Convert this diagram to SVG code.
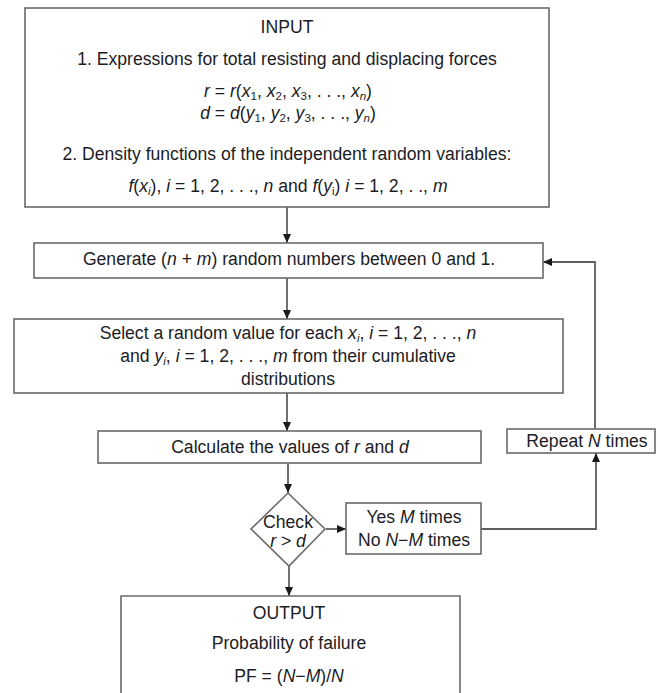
<svg xmlns="http://www.w3.org/2000/svg" width="658" height="693" viewBox="0 0 658 693">
<style>
  text { font-family: "Liberation Sans", Arial, sans-serif; font-size: 17.6px; fill: #1c1c24; text-anchor: middle; }
  .i { font-style: italic; }
  .s { font-size: 11.5px; }
  .box { fill: #fff; stroke: #6a6a6a; stroke-width: 1.6; }
  .ln { fill: none; stroke: #606060; stroke-width: 1.8; marker-end: url(#ah); }
</style>
<defs>
  <marker id="ah" markerUnits="userSpaceOnUse" markerWidth="10" markerHeight="10" refX="9" refY="4" orient="auto">
    <path d="M0,0 L9,4 L0,8 z" fill="#1a1a1a"/>
  </marker>
</defs>
<rect width="658" height="693" fill="#fff"/>

<g id="connectors">
  <path class="ln" d="M287 207 V243"/>
  <path class="ln" d="M287 278 V319"/>
  <path class="ln" d="M287 393 V431"/>
  <path class="ln" d="M288 463 V493"/>
  <path class="ln" d="M289 566 V596"/>
  <path class="ln" d="M326 529 H346"/>
  <path class="ln" d="M481 529 H596 V453"/>
  <path class="ln" d="M595 429 V262 H543"/>
</g>

<g id="input">
  <rect class="box" x="25" y="8" width="524" height="199"/>
  <text x="287" y="33">INPUT</text>
  <text x="287" y="65">1. Expressions for total resisting and displacing forces</text>
  <text x="288" y="97"><tspan class="i">r</tspan> = <tspan class="i">r</tspan>(<tspan class="i">x</tspan><tspan class="s" dy="3">1</tspan><tspan dy="-3">, </tspan><tspan class="i">x</tspan><tspan class="s" dy="3">2</tspan><tspan dy="-3">, </tspan><tspan class="i">x</tspan><tspan class="s" dy="3">3</tspan><tspan dy="-3">, . . ., </tspan><tspan class="i">x</tspan><tspan class="s i" dy="3">n</tspan><tspan dy="-3">)</tspan></text>
  <text x="288" y="119"><tspan class="i">d</tspan> = <tspan class="i">d</tspan>(<tspan class="i">y</tspan><tspan class="s" dy="3">1</tspan><tspan dy="-3">, </tspan><tspan class="i">y</tspan><tspan class="s" dy="3">2</tspan><tspan dy="-3">, </tspan><tspan class="i">y</tspan><tspan class="s" dy="3">3</tspan><tspan dy="-3">, . . ., </tspan><tspan class="i">y</tspan><tspan class="s i" dy="3">n</tspan><tspan dy="-3">)</tspan></text>
  <text x="287" y="160">2. Density functions of the independent random variables:</text>
  <text x="288" y="192"><tspan class="i">f</tspan>(<tspan class="i">x</tspan><tspan class="s i" dy="3">i</tspan><tspan dy="-3">), </tspan><tspan class="i">i</tspan> = 1, 2, . . ., <tspan class="i">n</tspan> and <tspan class="i">f</tspan>(<tspan class="i">y</tspan><tspan class="s" dy="3">i</tspan><tspan dy="-3">) </tspan><tspan class="i">i</tspan> = 1, 2, . ., <tspan class="i">m</tspan></text>
</g>

<g id="generate">
  <rect class="box" x="34" y="243" width="509" height="35"/>
  <text x="289" y="265">Generate (<tspan class="i">n</tspan> + <tspan class="i">m</tspan>) random numbers between 0 and 1.</text>
</g>

<g id="select">
  <rect class="box" x="14" y="319" width="549" height="74"/>
  <text x="288" y="339">Select a random value for each <tspan class="i">x</tspan><tspan class="s i" dy="3">i</tspan><tspan dy="-3">, </tspan><tspan class="i">i</tspan> = 1, 2, . . ., <tspan class="i">n</tspan></text>
  <text x="288" y="362">and <tspan class="i">y</tspan><tspan class="s i" dy="3">i</tspan><tspan dy="-3">, </tspan><tspan class="i">i</tspan> = 1, 2, . . ., <tspan class="i">m</tspan> from their cumulative</text>
  <text x="288" y="385">distributions</text>
</g>

<g id="calculate">
  <rect class="box" x="98" y="431" width="383" height="32"/>
  <text x="290" y="453">Calculate the values of <tspan class="i">r</tspan> and <tspan class="i">d</tspan></text>
</g>

<g id="check">
  <path class="box" d="M288 493 L325 529 L289 566 L251 529 Z"/>
  <text x="288" y="528">Check</text>
  <text x="288" y="547"><tspan class="i">r</tspan> &gt; <tspan class="i">d</tspan></text>
</g>

<g id="yesno">
  <rect class="box" x="346" y="503" width="135" height="51"/>
  <text x="414" y="523">Yes <tspan class="i">M</tspan> times</text>
  <text x="414" y="546">No <tspan class="i">N</tspan>−<tspan class="i">M</tspan> times</text>
</g>

<g id="repeat">
  <rect class="box" x="507" y="429" width="148" height="24"/>
  <text x="587" y="447">Repeat <tspan class="i">N</tspan> times</text>
</g>

<g id="output">
  <path class="box" d="M121 700 V596 H460 V700"/>
  <text x="289" y="619">OUTPUT</text>
  <text x="289" y="649">Probability of failure</text>
  <text x="289" y="682">PF = (<tspan class="i">N</tspan>−<tspan class="i">M</tspan>)/<tspan class="i">N</tspan></text>
</g>
</svg>
